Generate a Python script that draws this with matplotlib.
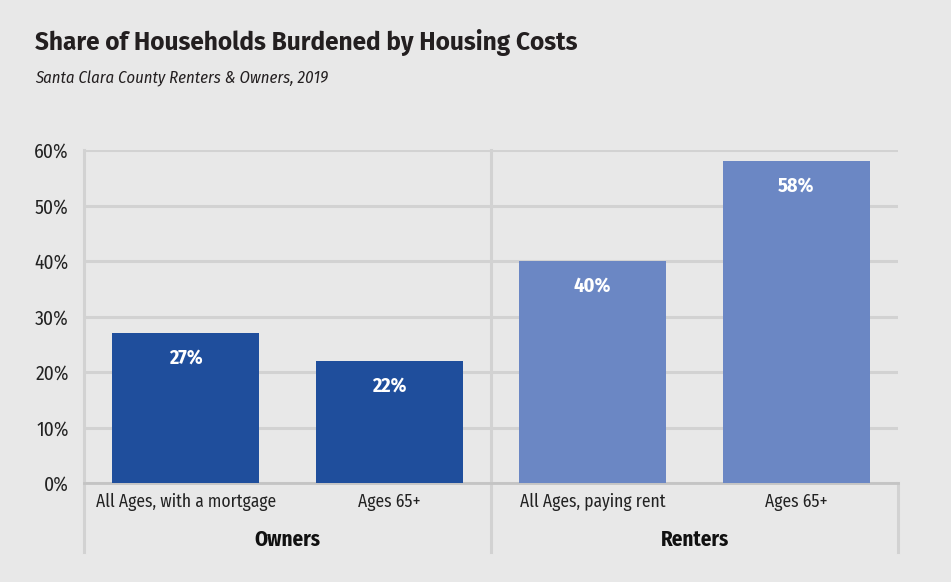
import matplotlib.pyplot as plt
from matplotlib.lines import Line2D

categories = ["All Ages, with a mortgage", "Ages 65+", "All Ages, paying rent", "Ages 65+"]
groups = ["Owners", "Renters"]
values = [27, 22, 40, 58]
yticks = [0, 10, 20, 30, 40, 50, 60]

bg = "#e8e8e8"
grid_col = "#d2d2d2"
colors = ["#1f4e9c", "#1f4e9c", "#6b87c4", "#6b87c4"]
narrow = ["Fira Sans Condensed", "DejaVu Sans"]

fig = plt.figure(figsize=(9.51, 5.82), dpi=100, facecolor=bg)
ax = fig.add_axes([84 / 951, 1 - 483 / 582, 814 / 951, 333 / 582])
ax.set_facecolor(bg)

x = list(range(len(values)))
ax.bar(x, values, width=0.72, color=colors, zorder=3)
for xi, v in zip(x, values):
    ax.text(xi, v - 4.5, f"{v}%", ha="center", va="center", color="white",
            fontsize=14.5, fontweight="bold", family=narrow, zorder=4)

ax.set_xlim(-0.5, 3.5)
ax.set_ylim(0, 60)
ax.set_yticks(yticks)
ax.set_yticklabels([f"{t}%" for t in yticks], family=narrow, fontsize=14, color="#222222")
ax.yaxis.grid(True, color=grid_col, linewidth=2.2, zorder=0)
ax.tick_params(axis="y", length=0, pad=11)
ax.set_xticks(x)
ax.set_xticklabels(categories, family=narrow, fontsize=12.6, color="#222222")
ax.tick_params(axis="x", length=0, pad=7)
for s in ["top", "right", "left"]:
    ax.spines[s].set_visible(False)
ax.spines["bottom"].set_color("#c4c4c4")
ax.spines["bottom"].set_linewidth(2)

# group separators running below the axis
trans = ax.get_xaxis_transform()
for xs, ytop in [(-0.5, 1.0), (1.5, 1.0), (3.5, 0.0)]:
    ax.add_line(Line2D([xs, xs], [-69 / 333, ytop], transform=trans, color=grid_col,
                       linewidth=2.2, clip_on=False, zorder=1))

for i, g in enumerate(groups):
    ax.text(2 * i + 0.5, -57 / 333, g, transform=trans, ha="center", va="center",
            fontsize=15, fontweight="bold", family=narrow, color="#111111")

fig.text(35 / 951, 1 - 42 / 582, "Share of Households Burdened by Housing Costs",
         fontsize=17.6, fontweight="bold", family=["Fira Sans", "DejaVu Sans"],
         color="#231f20", va="center")
fig.text(35 / 951, 1 - 79 / 582, "Santa Clara County Renters & Owners, 2019",
         fontsize=12, style="italic", family=narrow, color="#231f20", va="center")

fig.savefig("out.png", dpi=100, facecolor=bg)
